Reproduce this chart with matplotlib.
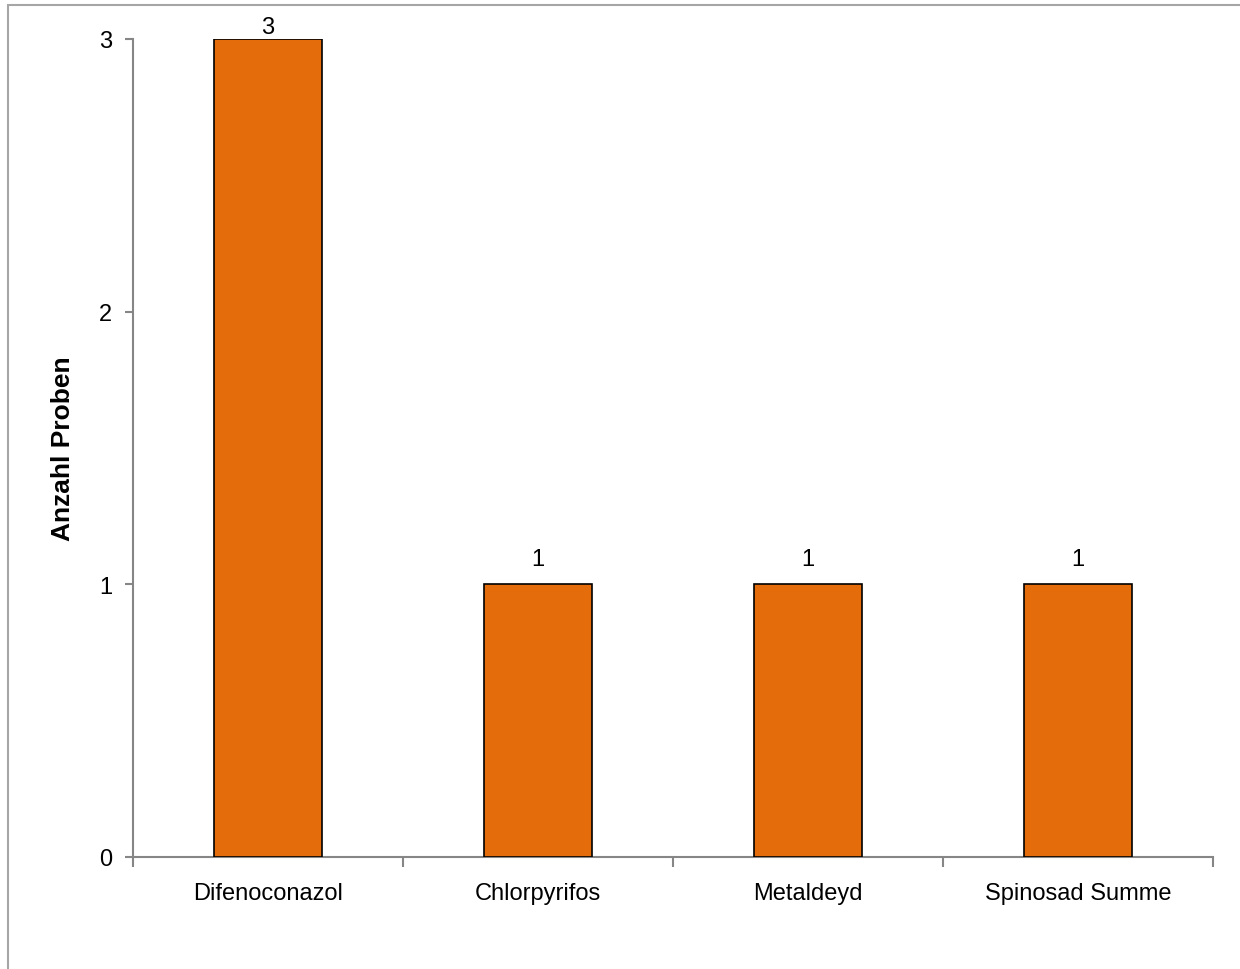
import matplotlib.pyplot as plt
from matplotlib.patches import Rectangle

plt.rcParams['font.family'] = ['Liberation Sans', 'DejaVu Sans']

substanzen = ['Difenoconazol', 'Chlorpyrifos', 'Metaldeyd', 'Spinosad Summe']
anzahl = [3, 1, 1, 1]

fig = plt.figure(figsize=(12.4, 9.7), dpi=100)
ax = fig.add_axes([0.1073, 0.1155, 0.871, 0.8433])

# frame around the whole chart
fig.patches.append(Rectangle((8 / 1240, -0.1), 1.2, 0.1 + (970 - 6) / 970,
                             transform=fig.transFigure, fill=False,
                             edgecolor='#a6a6a6', linewidth=1.5))

x = list(range(len(substanzen)))
ax.bar(x, anzahl, width=0.4, color='#e46c0a', edgecolor='black', linewidth=1.2, zorder=3)

# value labels; the tallest one is pushed down to stay inside the plot
for xi, v in zip(x, anzahl):
    off = 1 if v == max(anzahl) else 10
    ax.annotate(str(v), (xi, v), xytext=(0, off), textcoords='offset points',
                ha='center', va='bottom', fontsize=17, annotation_clip=False)

ax.set_xlim(-0.5, len(substanzen) - 0.5)
ax.set_ylim(0, 3)
ax.set_yticks([0, 1, 2, 3])
ax.tick_params(axis='y', direction='out', length=6, width=1.5, color='#868686', labelsize=17, pad=9)

# category ticks sit between the bars, labels under the bars
ax.set_xticks([i - 0.5 for i in range(len(substanzen) + 1)])
ax.set_xticklabels([])
ax.set_xticks(x, minor=True)
ax.set_xticklabels(substanzen, minor=True, fontsize=17)
ax.tick_params(axis='x', which='major', direction='out', length=7, width=1.5, color='#868686')
ax.tick_params(axis='x', which='minor', length=0, pad=18)

for s in ['top', 'right']:
    ax.spines[s].set_visible(False)
for s in ['left', 'bottom']:
    ax.spines[s].set_color('#868686')
    ax.spines[s].set_linewidth(1.5)

ax.set_ylabel('Anzahl Proben', fontsize=19, fontweight='bold', labelpad=17)

fig.savefig('out.png', dpi=100)
